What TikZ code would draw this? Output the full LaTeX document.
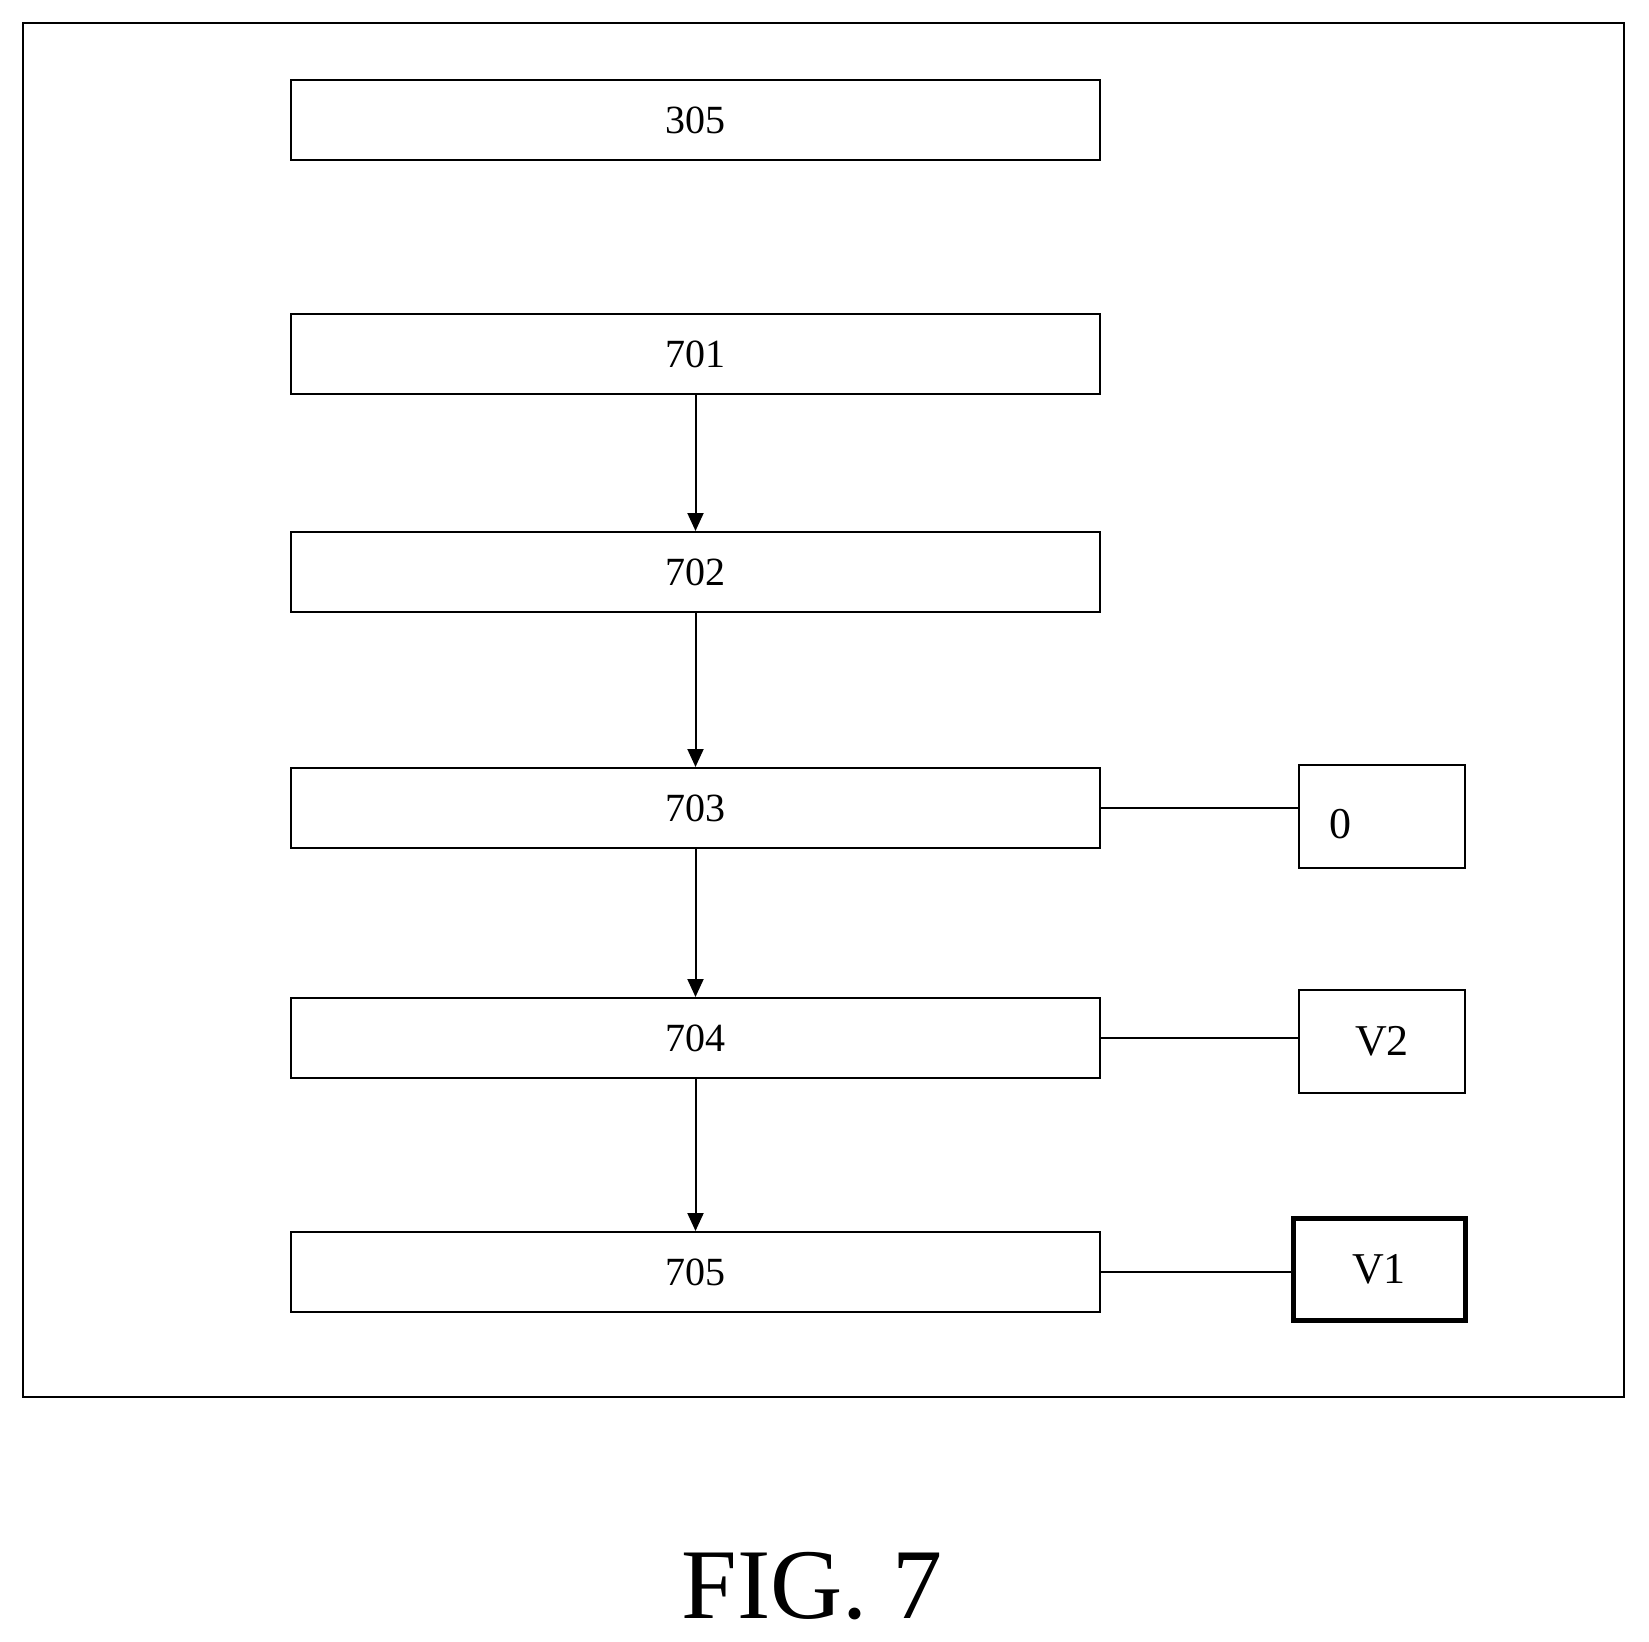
\documentclass[tikz,border=0pt]{standalone}
\usepackage{fontspec}
\setmainfont{Liberation Serif}
\usetikzlibrary{arrows.meta}
\begin{document}
\begin{tikzpicture}[x=1pt,y=-1pt,
  blk/.style={draw,line width=2pt,minimum width=809pt,minimum height=80pt,font=\fontsize{40}{40}\selectfont,inner sep=0},
  side/.style={draw,line width=2pt,minimum width=166pt,minimum height=103pt,font=\fontsize{44}{44}\selectfont,inner sep=0},
  arr/.style={line width=2pt,-{Triangle[length=18pt,width=16pt]}},
  ln/.style={line width=2pt}]
\useasboundingbox (0,0) rectangle (1649,1641);
\draw[line width=2.5pt] (23,23) rectangle (1624,1397);
\node[blk] (b305) at (695.5,120) {305};
\node[blk] (b701) at (695.5,354) {701};
\node[blk] (b702) at (695.5,572) {702};
\node[blk] (b703) at (695.5,808) {703};
\node[blk] (b704) at (695.5,1038) {704};
\node[blk] (b705) at (695.5,1272) {705};
\node[side] (s0) at (1382,816) {};
\node[font=\fontsize{44}{44}\selectfont] (t0) at (1340,824) {0};
\node[side] (sv2) at (1382,1041) {V2};
\node[side,line width=5pt,minimum width=172pt,minimum height=102pt] (sv1) at (1379,1269) {V1};
\draw[arr] (b701.south) -- (b702.north);
\draw[arr] (b702.south) -- (b703.north);
\draw[arr] (b703.south) -- (b704.north);
\draw[arr] (b704.south) -- (b705.north);
\draw[ln] (b703.east) -- (s0.west |- b703.east);
\draw[ln] (b704.east) -- (sv2.west |- b704.east);
\draw[ln] (b705.east) -- (sv1.west |- b705.east);
\node[font=\fontsize{100}{100}\selectfont] (fig) at (812,1586) {FIG. 7};
\end{tikzpicture}
\end{document}
